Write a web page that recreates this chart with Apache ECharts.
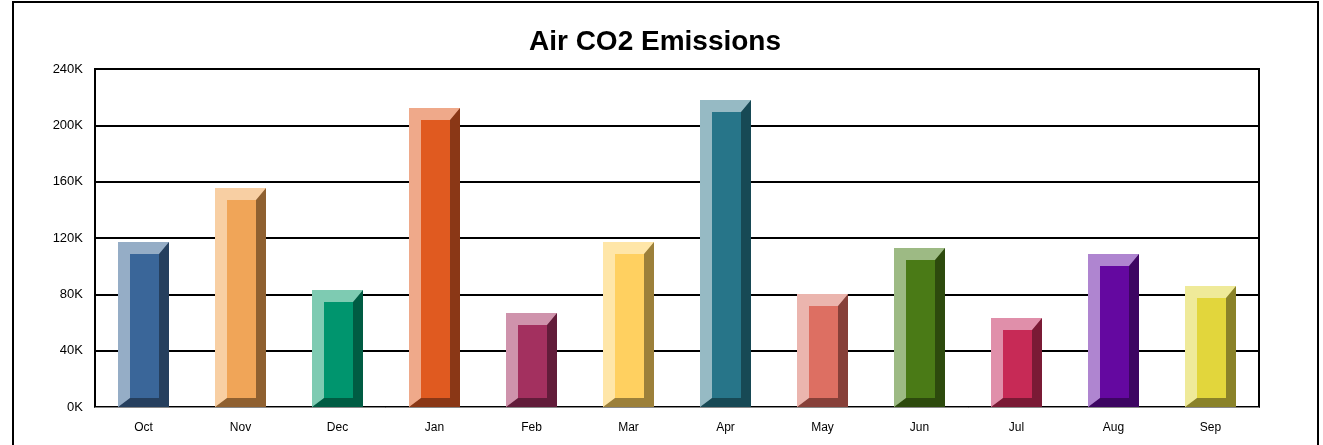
<!DOCTYPE html>
<html>
<head>
<meta charset="utf-8">
<script src="https://cdn.jsdelivr.net/npm/echarts@6/dist/echarts.min.js"></script>
<style>html,body{margin:0;padding:0;background:#fff}#c{width:1323px;height:445px}</style>
</head>
<body>
<div id="c"></div>
<script>
const categories = ['Oct','Nov','Dec','Jan','Feb','Mar','Apr','May','Jun','Jul','Aug','Sep'];
const emissions = [117000, 155500, 83000, 212000, 66500, 117500, 218000, 80000, 113000, 63000, 108500, 86000];
const mainColors  = ['#3A6699','#F0A558','#00956E','#E05A20','#A3305F','#FFD060','#277589','#DD6F62','#4A7A16','#C72A56','#6408A0','#E2D63C'];
const lightColors = ['#95ADC6','#F8CFA3','#7ECBB2','#EFA98A','#CF93AC','#FFE6A8','#96BAC4','#EBB5AE','#9DBA84','#E08FAA','#AF85D0','#EFEA99'];
const darkColors  = ['#253F5E','#8F6030','#005C43','#8A3716','#621C3A','#9C803A','#174955','#874039','#2D4A0D','#7A1A35','#3D0562','#8A8229'];
const yTicks = [0, 40000, 80000, 120000, 160000, 200000, 240000];

const chart = echarts.init(document.getElementById('c'), null, {renderer: 'canvas'});

function renderBevel(params, api) {
  const idx = api.value(0);
  const top = api.coord([idx, api.value(1)]);
  const base = api.coord([idx, 0]);
  const band = api.size([1, 0])[0];
  const w = band * 0.52;
  const x0 = Math.round(top[0] - w / 2), x1 = Math.round(top[0] + w / 2);
  const y0 = Math.round(top[1]), y1 = Math.round(base[1]);
  const bl = 12, bt = 12, br = 10, bb = 9;
  const i = params.dataIndex;
  return {
    type: 'group',
    children: [
      {type: 'rect', shape: {x: x0, y: y0, width: x1 - x0, height: y1 - y0}, style: {fill: darkColors[i]}},
      {type: 'polygon', shape: {points: [[x0, y1], [x0, y0], [x1, y0], [x1 - br, y0 + bt], [x0 + bl, y0 + bt], [x0 + bl, y1 - bb]]}, style: {fill: lightColors[i]}},
      {type: 'rect', shape: {x: x0 + bl, y: y0 + bt, width: x1 - x0 - bl - br, height: Math.max(0, y1 - y0 - bt - bb)}, style: {fill: mainColors[i]}}
    ]
  };
}

chart.setOption({
  animation: false,
  backgroundColor: '#fff',
  title: {
    text: 'Air CO2 Emissions',
    left: 650, top: 23,
    textAlign: 'center',
    textStyle: {fontFamily: 'Arial, Liberation Sans', fontWeight: 'bold', fontSize: 28, color: '#000'}
  },
  graphic: [{
    type: 'rect', z: 100, silent: true,
    shape: {x: 13, y: 2, width: 1305, height: 470},
    style: {fill: 'none', stroke: '#000', lineWidth: 2}
  }],
  grid: {left: 95, right: 64, top: 69, bottom: 38, show: true, borderColor: '#000', borderWidth: 2, backgroundColor: 'transparent'},
  xAxis: {
    type: 'category',
    data: categories,
    axisLine: {show: true, lineStyle: {color: '#888', width: 1}},
    axisTick: {show: false},
    axisLabel: {fontFamily: 'Arial, Liberation Sans', fontSize: 12, color: '#000', margin: 15}
  },
  yAxis: {
    type: 'value',
    min: 0, max: 240000, interval: 40000,
    axisLine: {show: false},
    axisTick: {show: false},
    splitLine: {show: true, lineStyle: {color: '#000', width: 2}},
    axisLabel: {
      fontFamily: 'Arial, Liberation Sans', fontSize: 13, color: '#000', margin: 12,
      formatter: v => yTicks.includes(v) ? (v / 1000) + 'K' : ''
    }
  },
  series: [{
    type: 'custom',
    renderItem: renderBevel,
    encode: {x: 0, y: 1},
    data: emissions.map((v, i) => [i, v]),
    z: 10
  }]
});
</script>
</body>
</html>
